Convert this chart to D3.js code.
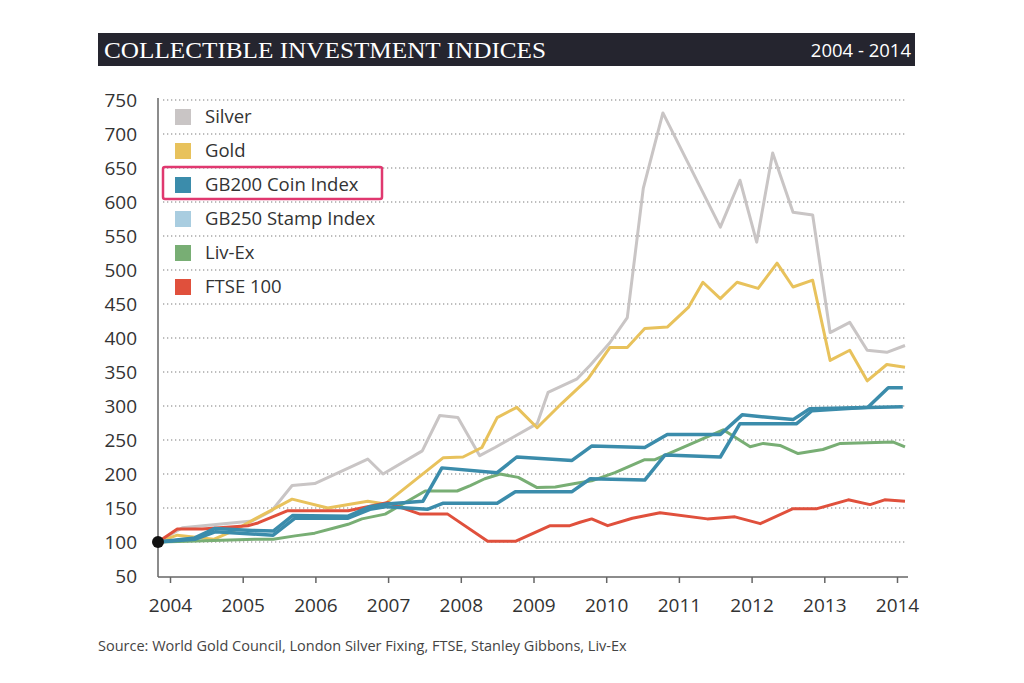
<!DOCTYPE html>
<html>
<head>
<meta charset="utf-8">
<script src="https://cdn.jsdelivr.net/npm/d3@7"></script>
<style>
  body { margin: 0; background: #fff; }
  svg { display: block; }
</style>
</head>
<body>
<div id="chart"></div>
<script>
// values: [year, index value]
const silver = [[2003.835,100],[2004.17,121],[2005.13,131],[2005.40,146],[2005.68,183],[2005.99,186],[2006.72,222],[2006.93,200],[2007.47,234],[2007.71,286],[2007.96,283],[2008.26,227],[2008.47,239],[2009.05,274],[2009.20,320],[2009.60,340],[2009.78,360],[2010.05,393],[2010.29,430],[2010.51,620],[2010.78,731],[2011.57,563],[2011.84,632],[2012.07,541],[2012.29,672],[2012.57,585],[2012.84,581],[2013.08,408],[2013.35,423],[2013.59,382],[2013.86,379],[2014.11,389]];
const gold = [[2003.835,100],[2004.1,110],[2004.6,104],[2004.9,118],[2005.17,134],[2005.68,163],[2006.17,150],[2006.72,160],[2006.96,156],[2007.76,224],[2008.03,225],[2008.29,239],[2008.50,283],[2008.77,298],[2009.05,268],[2009.39,304],[2009.75,340],[2010.05,386],[2010.29,386],[2010.53,414],[2010.84,416],[2011.13,445],[2011.33,482],[2011.57,458],[2011.80,482],[2012.09,473],[2012.35,510],[2012.57,475],[2012.84,485],[2013.08,367],[2013.35,382],[2013.59,337],[2013.86,361],[2014.11,357]];
const stamp = [[2003.835,100],[2004.34,106],[2004.62,120],[2005.13,117],[2005.42,116],[2005.69,139],[2006.45,138],[2006.75,152],[2006.98,156],[2007.48,160],[2007.74,209],[2008.50,202],[2008.77,225],[2009.53,220],[2009.80,241],[2010.53,239],[2010.84,258],[2011.57,258],[2011.87,287],[2012.57,280],[2012.80,296],[2014.08,299]];
const coin = [[2003.835,100],[2004.34,104],[2004.62,115],[2005.42,110],[2005.72,135],[2006.45,135],[2006.75,148],[2006.98,152],[2007.54,148],[2007.76,157],[2008.50,157],[2008.75,174],[2009.53,174],[2009.78,193],[2010.53,191],[2010.81,228],[2011.57,225],[2011.84,274],[2012.62,274],[2012.83,293],[2013.60,298],[2013.88,327],[2014.08,327]];
const livex = [[2003.835,100],[2004.25,101],[2005.17,104],[2005.42,104],[2005.72,109],[2005.99,113],[2006.27,121],[2006.45,126],[2006.64,134],[2006.96,141],[2007.51,175],[2007.95,175],[2008.13,183],[2008.33,193],[2008.54,200],[2008.79,195],[2009.05,180],[2009.30,181],[2009.57,186],[2009.80,190],[2010.12,202],[2010.53,221],[2010.67,221],[2011.61,265],[2011.98,240],[2012.16,245],[2012.39,242],[2012.64,230],[2012.98,236],[2013.22,245],[2013.95,247],[2014.11,240]];
const ftse = [[2003.835,100],[2004.1,119],[2004.44,119],[2005.07,124],[2005.21,128],[2005.62,146],[2006.45,146],[2007.0,158],[2007.12,153],[2007.44,141],[2007.82,141],[2008.37,101],[2008.75,101],[2009.23,124],[2009.50,124],[2009.64,129],[2009.80,134],[2010.02,124],[2010.36,135],[2010.74,143],[2011.39,134],[2011.77,137],[2012.12,127],[2012.57,149],[2012.90,149],[2013.33,162],[2013.63,155],[2013.83,162],[2014.11,160]];

const legendNames = ["Silver", "Gold", "GB200 Coin Index", "GB250 Stamp Index", "Liv-Ex", "FTSE 100"];
const legendColors = ["#c9c5c5", "#e8c25c", "#3b8cab", "#a9cde0", "#78ae74", "#e0503c"];
const yTicks = [50, 100, 150, 200, 250, 300, 350, 400, 450, 500, 550, 600, 650, 700, 750];
const xTicks = [2004, 2005, 2006, 2007, 2008, 2009, 2010, 2011, 2012, 2013, 2014];

const width = 1024, height = 683;
const svg = d3.select("#chart").append("svg")
    .attr("width", width)
    .attr("height", height);

// title bar
svg.append("rect")
    .attr("x", 98).attr("y", 33)
    .attr("width", 817).attr("height", 33)
    .attr("fill", "#25252f");
svg.append("text")
    .attr("x", 104).attr("y", 58)
    .attr("font-family", "Liberation Serif, serif")
    .attr("font-size", 24)
    .attr("textLength", 442)
    .attr("lengthAdjust", "spacingAndGlyphs")
    .attr("fill", "#fff")
    .text("COLLECTIBLE INVESTMENT INDICES");
svg.append("text")
    .attr("x", 911).attr("y", 57)
    .attr("text-anchor", "end")
    .attr("font-family", "Open Sans, sans-serif")
    .attr("font-size", 18.5)
    .attr("fill", "#fff")
    .text("2004 - 2014");

const x = d3.scaleLinear().domain([2004, 2014]).range([170, 897]);
const y = d3.scaleLinear().domain([50, 750]).range([576, 100]);
const left = 158, right = 908;

// dotted gridlines
svg.append("g")
  .selectAll("line")
  .data(yTicks.filter(d => d > 50))
  .join("line")
    .attr("x1", left + 5).attr("x2", 905)
    .attr("y1", d => y(d)).attr("y2", d => y(d))
    .attr("stroke", "#a8a8a8")
    .attr("stroke-width", 1.3)
    .attr("stroke-dasharray", "1.3,2.7");

// y axis
const yAxis = svg.append("g")
    .attr("transform", `translate(${left},0)`)
    .call(d3.axisLeft(y).tickValues(yTicks).tickSize(0).tickPadding(21));
yAxis.select(".domain").attr("stroke", "#666").attr("stroke-width", 1.5)
    .attr("d", `M0,${y(750) - 2}V${y(50) + 1}`);
yAxis.selectAll("text")
    .attr("font-family", "Open Sans, sans-serif")
    .attr("font-size", 19)
    .attr("fill", "#333");

// x axis
const xAxis = svg.append("g")
    .attr("transform", `translate(0,${y(50) + 1})`)
    .call(d3.axisBottom(x).tickValues(xTicks).tickFormat(d3.format("d")).tickSize(6).tickPadding(16));
xAxis.select(".domain").attr("stroke", "#666").attr("stroke-width", 1.5)
    .attr("d", `M${left},0H${right}`);
xAxis.selectAll(".tick line").attr("stroke", "#666").attr("stroke-width", 1.5);
xAxis.selectAll("text")
    .attr("font-family", "Open Sans, sans-serif")
    .attr("font-size", 19)
    .attr("fill", "#333");

// lines
const line = d3.line().x(d => x(d[0])).y(d => y(d[1]));
const series = [
  { data: silver, color: legendColors[0], w: 3 },
  { data: gold, color: legendColors[1], w: 3 },
  { data: livex, color: legendColors[4], w: 3 },
  { data: ftse, color: legendColors[5], w: 3 },
  { data: stamp, color: legendColors[2], w: 3.5 },
  { data: coin, color: legendColors[2], w: 3.5 }
];
svg.append("g")
  .selectAll("path")
  .data(series)
  .join("path")
    .attr("d", d => line(d.data))
    .attr("fill", "none")
    .attr("stroke", d => d.color)
    .attr("stroke-width", d => d.w)
    .attr("stroke-linejoin", "round");

// start dot
svg.append("circle")
    .attr("cx", x(silver[0][0])).attr("cy", y(silver[0][1]))
    .attr("r", 6)
    .attr("fill", "#111");

// legend
const legend = svg.append("g")
  .selectAll("g")
  .data(legendNames)
  .join("g")
    .attr("transform", (d, i) => `translate(175,${117 + i * 34})`);
legend.append("rect")
    .attr("x", 0).attr("y", -8)
    .attr("width", 16).attr("height", 16)
    .attr("fill", (d, i) => legendColors[i]);
legend.append("text")
    .attr("x", 30).attr("y", 0)
    .attr("dy", "0.35em")
    .attr("font-family", "Open Sans, sans-serif")
    .attr("font-size", 18.5)
    .attr("fill", "#333")
    .text(d => d);

// highlight box around the coin index
svg.append("rect")
    .attr("x", 163).attr("y", 167)
    .attr("width", 219).attr("height", 32)
    .attr("rx", 2)
    .attr("fill", "none")
    .attr("stroke", "#e0386f")
    .attr("stroke-width", 2.5);

// source
svg.append("text")
    .attr("x", 98).attr("y", 651)
    .attr("font-family", "Open Sans, sans-serif")
    .attr("font-size", 14.5)
    .attr("fill", "#444")
    .text("Source: World Gold Council, London Silver Fixing, FTSE, Stanley Gibbons, Liv-Ex");
</script>
</body>
</html>
